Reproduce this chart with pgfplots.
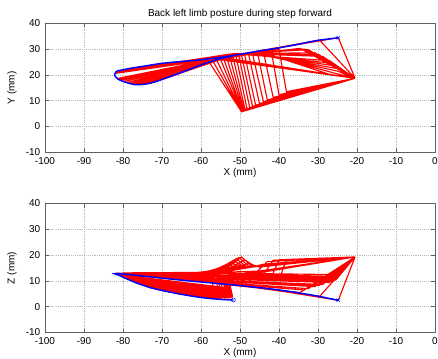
\documentclass[border=0pt]{standalone}
\usepackage{fontspec}
\setmainfont{Liberation Sans}
\usepackage{pgfplots}
\usepackage{pgfplotstable}
\pgfplotsset{compat=1.18}

% limb postures (x, y, z): hip, knee, ankle, (mtp), toe ; nan rows separate postures
\pgfplotstableread{
x y z
-20.5 18.7 19.3
-24.8 34.4 2.5
-45 29.3 7.4
nan nan nan
-20.5 18.7 19.3
-29.6 33.5 4.0
-50 28.0 8.2
nan nan nan
-20.5 18.7 19.3
-34.6 30.3 5.5
-56 26.5 9.0
nan nan nan
-20.5 18.7 19.3
-33.5 30.0 6.5
-55 27.5 9.0
-82 21.0 12.9
nan nan nan
-20.5 18.7 19.3
-32.5 29.8 7.0
-53 28.0 9.2
-81 21.5 12.6
nan nan nan
-20.5 18.7 19.3
-30.8 28.6 7.8
-52 28.2 9.6
-80 21.8 12.7
nan nan nan
-20.5 18.7 19.3
-29.8 27.9 8.2
-51.5 28.2 9.8
-79 22.0 12.4
nan nan nan
-20.5 18.7 19.3
-28.8 27.2 8.6
-51 28.3 10.0
-78 22.3 12.6
nan nan nan
-20.5 18.7 19.3
-27.0 25.5 9.4
-50 28.0 10.5
-76 22.8 12.8
nan nan nan
-20.5 18.7 19.3
-26.2 24.5 9.8
-49 28.1 10.8
-74.5 23.2 12.2
nan nan nan
-20.5 18.7 19.3
-25.5 23.5 10.3
-48 28.3 11.2
-73 23.5 12.9
nan nan nan
-20.5 18.7 19.3
-25.2 22.5 10.8
-47 28.3 11.6
-71.5 23.8 12.1
nan nan nan
-20.5 18.7 19.3
-25.0 21.5 11.2
-46 28.3 12.0
-70 24.0 13.0
nan nan nan
-20.5 18.7 19.3
-26.0 20.8 11.8
-45 28.5 12.4
-68.5 24.4 12.2
nan nan nan
-20.5 18.7 19.3
-27.0 20.2 12.5
-44 28.6 12.8
-67 24.6 13.1
nan nan nan
-20.5 18.7 19.3
-49.6 5.7 15.0
-58.0 25.2 13.3
-63 24.7 13.2
-82 20.6 12.9
nan nan nan
-20.5 18.7 19.3
-49.6 5.7 15.1
-57.0 25.5 13.4
-62.5 24.8 13.2
-82 20.8 12.9
nan nan nan
-20.5 18.7 19.3
-49.6 5.8 15.2
-56.0 25.8 13.6
-62 24.9 13.2
-81.8 20.9 12.9
nan nan nan
-20.5 18.7 19.3
-49.5 5.9 15.2
-55.0 26.1 14.2
-61 25.1 13.3
-81.5 21.0 13.0
nan nan nan
-20.5 18.7 19.3
-49.4 6.0 15.3
-54.2 26.3 15.0
-60 25.3 13.3
-81.2 21.1 13.0
nan nan nan
-20.5 18.7 19.3
-49.2 6.2 15.3
-53.4 26.6 16.0
-59 25.5 13.3
-81 21.2 13.0
nan nan nan
-20.5 18.7 19.3
-49.0 6.4 15.4
-52.6 26.8 17.0
-58 25.6 13.3
-80.5 21.3 13.0
nan nan nan
-20.5 18.7 19.3
-48.7 6.6 15.4
-51.8 27.0 17.9
-57 25.8 13.3
-80 21.5 13.1
nan nan nan
-20.5 18.7 19.3
-48.2 6.9 15.4
-51.0 27.2 18.6
-56.2 25.9 13.3
-79.5 21.6 13.1
nan nan nan
-20.5 18.7 19.3
-47.5 7.3 15.4
-50.3 27.4 19.1
-55.5 26.0 13.3
-79 21.7 13.1
nan nan nan
-20.5 18.7 19.3
-46.8 7.8 15.5
-49.6 27.6 19.3
-54.8 26.2 13.3
-78.5 21.9 13.1
nan nan nan
-20.5 18.7 19.3
-46.0 8.3 15.5
-48.8 27.8 18.2
-54.5 26.2 13.3
-78 22.0 13.1
nan nan nan
-20.5 18.7 19.3
-45.0 8.9 15.4
-47.8 28.0 16.8
-54.5 26.2 13.3
-77.5 22.1 13.2
nan nan nan
-20.5 18.7 19.3
-44.0 9.6 16.5
-46.8 28.3 15.4
-55 26.1 13.3
-77 22.2 13.2
nan nan nan
-20.5 18.7 19.3
-43.0 10.3 17.5
-45.5 28.6 13.8
-55.5 26.0 13.3
-76.5 22.4 13.2
nan nan nan
-20.5 18.7 19.3
-41.5 11.3 18.0
-44.0 29.0 12.5
-55 26.1 13.2
-76 22.5 13.2
nan nan nan
-20.5 18.7 19.3
-40.0 12.3 18.2
-42.0 29.5 11.3
-54.5 26.2 13.2
-75.5 22.6 13.2
nan nan nan
-20.5 18.7 19.3
-38.1 13.5 18.3
-40.0 30.0 10.3
-54 26.3 13.1
-75 22.7 13.2
nan nan nan
-20.5 18.7 19.3
-51 25.5 12.5
-54 27.0 7.5
-81.5 18.6 12.5
nan nan nan
-20.5 18.7 19.3
-51.2 25.6 12.4
-53.8 27.0 7.2
-81 18.2 12.2
nan nan nan
-20.5 18.7 19.3
-51.5 25.8 12.2
-53.5 27.1 6.9
-80.5 17.8 11.8
nan nan nan
-20.5 18.7 19.3
-51.8 25.9 12.1
-53.2 27.1 6.5
-79.8 17.4 11.3
nan nan nan
-20.5 18.7 19.3
-52 26.0 12.0
-53 27.2 6.1
-79 17.0 10.8
nan nan nan
-20.5 18.7 19.3
-52.2 26.1 11.9
-52.8 27.2 5.7
-78.2 16.7 10.3
nan nan nan
-20.5 18.7 19.3
-52.5 26.2 11.8
-52.5 27.3 5.3
-77.5 16.5 9.8
nan nan nan
-20.5 18.7 19.3
-52.8 26.3 11.6
-52.2 27.3 4.9
-76.8 16.3 9.3
nan nan nan
-20.5 18.7 19.3
-53 26.4 11.5
-52 27.4 4.6
-76 16.2 8.9
nan nan nan
-20.5 18.7 19.3
-53.2 26.45 11.3
-52 27.4 4.2
-75 16.3 8.4
nan nan nan
-20.5 18.7 19.3
-53.5 26.5 11.2
-52 27.4 3.9
-74 16.5 7.9
nan nan nan
-20.5 18.7 19.3
-53.8 26.55 11.1
-52.2 27.35 3.7
-73 16.8 7.4
nan nan nan
-20.5 18.7 19.3
-54 26.6 11.0
-52.5 27.3 3.5
-72 17.2 7.0
nan nan nan
-20.5 18.7 19.3
-54.5 26.65 10.9
-53.2 27.1 3.4
-71 17.7 6.6
nan nan nan
-20.5 18.7 19.3
-55 26.7 10.8
-54 27.0 3.4
-70 18.2 6.3
nan nan nan
-20.5 18.7 19.3
-55.5 26.6 10.6
-54.8 26.8 3.3
-69 18.7 6.0
nan nan nan
-20.5 18.7 19.3
-56 26.5 10.5
-55.5 26.6 3.3
-68 19.3 5.7
nan nan nan
-20.5 18.7 19.3
-57 26.3 10.3
-57 26.0 3.4
-66 20.4 5.1
}\limb

\pgfplotstableread{
x y z
-81.6 21.5 12.9
-78 22.6 12.4
-75 23.3 11.9
-70 24.5 11.1
-65 25.2 10.3
-60 25.9 9.6
-55 26.8 8.9
-50 28.0 8.2
-45 29.3 7.4
-40 30.5 6.5
-35 31.9 5.4
-30 33.4 4.1
-24.8 34.4 2.5
}\cone

\pgfplotstableread{
x y z
-81.6 21.5 12.9
-82.2 20.0 12.8
-81.2 18.3 12.3
-79 17.0 10.8
-76.5 16.2 9.2
-73 16.8 7.4
-69 18.8 6.0
-65 21.0 4.8
-61 23.3 3.8
-57.7 25.1 3.2
-54.5 26.5 2.8
-51.7 27.4 2.6
}\ctwo

\pgfplotsset{
  matlab/.style={
    scale only axis,
    width=292.5pt, height=96.75pt,
    xmin=-100, xmax=0, ymin=-10, ymax=40,
    xtick={-100,-90,...,0}, ytick={-10,0,...,40},
    grid=major,
    grid style={densely dotted, gray!55},
    tick align=inside,
    major tick length=3pt,
    axis line style={gray!75!black},
    every tick/.style={gray!75!black},
    font=\fontsize{7.5}{9}\selectfont,
    /pgf/number format/assume math mode=true,
    xlabel style={yshift=4pt},
    unbounded coords=jump,
    clip=true,
  }
}

\begin{document}
\begin{tikzpicture}
\useasboundingbox (-33.75pt,-19.1pt) rectangle (294.75pt,249.4pt);
\begin{axis}[matlab, at={(0pt,135.15pt)}, anchor=south west,
  title={Back left limb posture during step forward},
  title style={yshift=-6pt},
  xlabel={X (mm)}, ylabel={Y (mm)}]
\addplot[red, line width=0.85pt] table[x=x,y=y]{\limb};
\addplot[blue, line width=1.1pt, smooth] table[x=x,y=y]{\cone};
\addplot[blue, line width=1.1pt, smooth] table[x=x,y=y]{\ctwo};
\addplot[blue, only marks, mark=x, mark size=1.8pt] coordinates {(-24.8,34.4)};
\end{axis}
\begin{axis}[matlab, at={(0pt,0pt)}, anchor=south west,
  xlabel={X (mm)}, ylabel={Z (mm)}]
\addplot[red, line width=0.85pt] table[x=x,y=z]{\limb};
\addplot[blue, line width=1.1pt, smooth] table[x=x,y=z]{\cone};
\addplot[blue, line width=1.1pt, smooth] table[x=x,y=z]{\ctwo};
\addplot[blue, only marks, mark=x, mark size=1.8pt] coordinates {(-24.8,2.5)};
\addplot[blue, only marks, mark=o, mark size=1.5pt] coordinates {(-51.7,2.6)};
\end{axis}
\end{tikzpicture}
\end{document}
